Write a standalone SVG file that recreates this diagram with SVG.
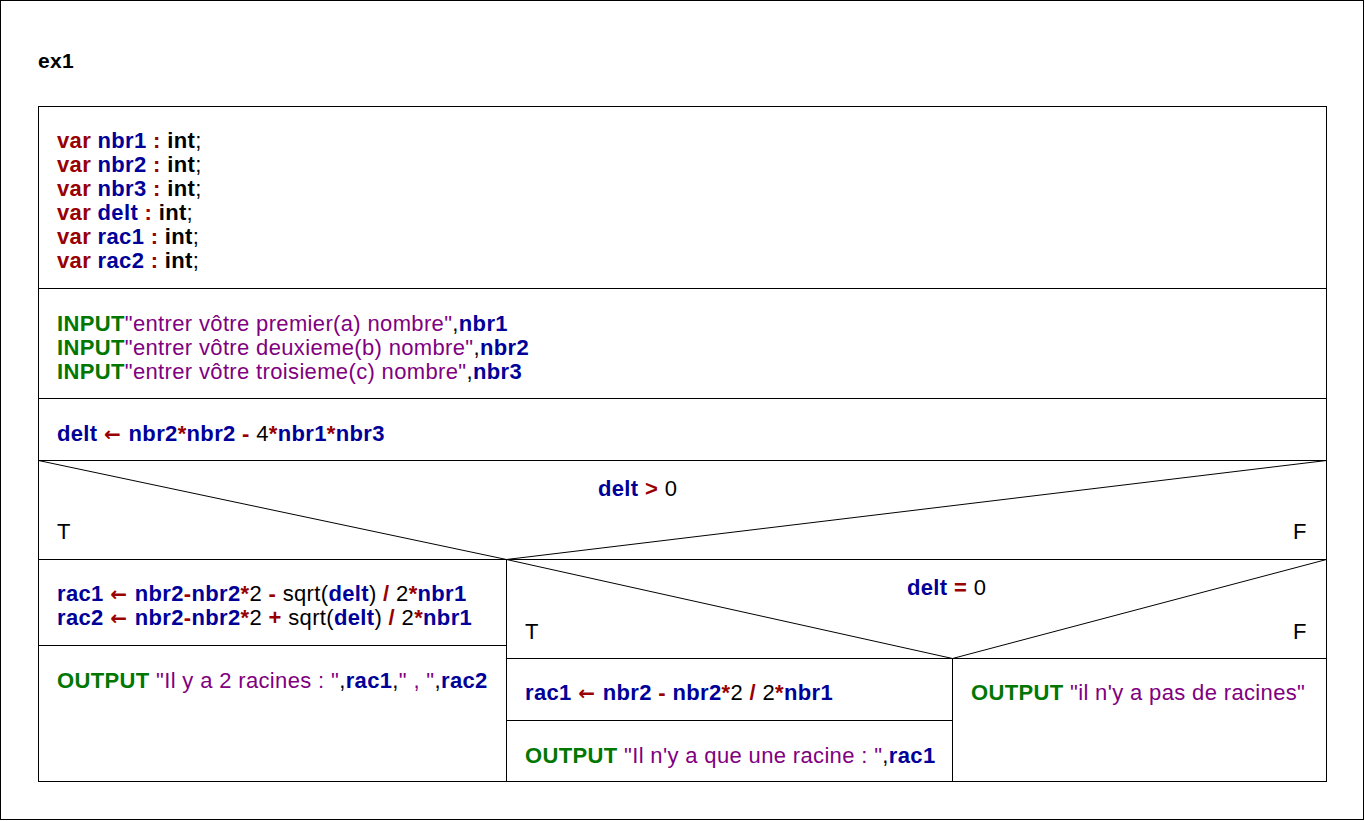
<svg xmlns="http://www.w3.org/2000/svg" width="1365" height="821" viewBox="0 0 1365 821">
<style>
text{font-family:"Liberation Sans",Arial,sans-serif;font-size:22px;letter-spacing:0.35px;fill:#000}
.box{fill:#fff;stroke:#000;stroke-width:1}
.ln{stroke:#000;stroke-width:1;fill:none}
.k{fill:#990000;font-weight:bold}
.a{fill:#990000;font-weight:bold;font-family:"DejaVu Sans",sans-serif;font-size:20px}
.v{fill:#000099;font-weight:bold}
.g{fill:#007700;font-weight:bold}
.s{fill:#800080}
.b{font-weight:bold}
</style>
<rect x="0" y="0" width="1365" height="821" fill="#fff"/>
<rect class="box" x="0.5" y="0.5" width="1363" height="819"/>
<g id="title"><text x="38" y="68" class="b" style="font-size:21px">ex1</text></g>
<rect class="box" x="38.5" y="106.5" width="1288" height="675"/>
<g id="decl">
<rect class="box" x="38.5" y="106.5" width="1288" height="182"/>
<text xml:space="preserve" x="57" y="148"><tspan class="k">var </tspan><tspan class="v">nbr1</tspan><tspan class="k"> : </tspan><tspan class="b">int</tspan>;</text>
<text xml:space="preserve" x="57" y="172"><tspan class="k">var </tspan><tspan class="v">nbr2</tspan><tspan class="k"> : </tspan><tspan class="b">int</tspan>;</text>
<text xml:space="preserve" x="57" y="196"><tspan class="k">var </tspan><tspan class="v">nbr3</tspan><tspan class="k"> : </tspan><tspan class="b">int</tspan>;</text>
<text xml:space="preserve" x="57" y="220"><tspan class="k">var </tspan><tspan class="v">delt</tspan><tspan class="k"> : </tspan><tspan class="b">int</tspan>;</text>
<text xml:space="preserve" x="57" y="244"><tspan class="k">var </tspan><tspan class="v">rac1</tspan><tspan class="k"> : </tspan><tspan class="b">int</tspan>;</text>
<text xml:space="preserve" x="57" y="268"><tspan class="k">var </tspan><tspan class="v">rac2</tspan><tspan class="k"> : </tspan><tspan class="b">int</tspan>;</text>
</g>
<g id="input">
<rect class="box" x="38.5" y="288.5" width="1288" height="110"/>
<text xml:space="preserve" x="57" y="331"><tspan class="g">INPUT</tspan><tspan class="s">"entrer vôtre premier(a) nombre"</tspan>,<tspan class="v">nbr1</tspan></text>
<text xml:space="preserve" x="57" y="355"><tspan class="g">INPUT</tspan><tspan class="s">"entrer vôtre deuxieme(b) nombre"</tspan>,<tspan class="v">nbr2</tspan></text>
<text xml:space="preserve" x="57" y="379"><tspan class="g">INPUT</tspan><tspan class="s">"entrer vôtre troisieme(c) nombre"</tspan>,<tspan class="v">nbr3</tspan></text>
</g>
<g id="assign-delt">
<rect class="box" x="38.5" y="398.5" width="1288" height="62"/>
<text xml:space="preserve" x="57" y="441"><tspan class="v">delt </tspan><tspan class="a">←</tspan><tspan class="k"> </tspan><tspan class="v" dx="1">nbr2</tspan><tspan class="k">*</tspan><tspan class="v">nbr2</tspan><tspan class="k"> - </tspan>4<tspan class="k">*</tspan><tspan class="v">nbr1</tspan><tspan class="k">*</tspan><tspan class="v">nbr3</tspan></text>
</g>
<g id="if-delt-gt-0">
<rect class="box" x="38.5" y="460.5" width="1288" height="99"/>
<polyline class="ln" points="38.5,460.5 506.5,559.5 1326.5,460.5"/>
<text xml:space="preserve" x="598" y="496"><tspan class="v">delt</tspan><tspan class="k"> &gt; </tspan>0</text>
<text x="57" y="539">T</text>
<text x="1293" y="539">F</text>
</g>
<g id="roots-two">
<rect class="box" x="38.5" y="559.5" width="468" height="86"/>
<text xml:space="preserve" x="57" y="601"><tspan class="v">rac1 </tspan><tspan class="a">←</tspan><tspan class="k"> </tspan><tspan class="v" dx="1">nbr2</tspan><tspan class="k">-</tspan><tspan class="v">nbr2</tspan><tspan class="k">*</tspan>2<tspan class="k"> - </tspan>sqrt(<tspan class="v">delt</tspan>)<tspan class="k"> / </tspan>2<tspan class="k">*</tspan><tspan class="v">nbr1</tspan></text>
<text xml:space="preserve" x="57" y="625"><tspan class="v">rac2 </tspan><tspan class="a">←</tspan><tspan class="k"> </tspan><tspan class="v" dx="1">nbr2</tspan><tspan class="k">-</tspan><tspan class="v">nbr2</tspan><tspan class="k">*</tspan>2<tspan class="k"> + </tspan>sqrt(<tspan class="v">delt</tspan>)<tspan class="k"> / </tspan>2<tspan class="k">*</tspan><tspan class="v">nbr1</tspan></text>
</g>
<g id="output-two">
<rect class="box" x="38.5" y="645.5" width="468" height="136"/>
<text xml:space="preserve" x="57" y="688"><tspan class="g">OUTPUT</tspan> <tspan class="s">"Il y a 2 racines : "</tspan>,<tspan class="v">rac1</tspan>,<tspan class="s">" , "</tspan>,<tspan class="v">rac2</tspan></text>
</g>
<g id="if-delt-eq-0">
<rect class="box" x="506.5" y="559.5" width="820" height="99"/>
<polyline class="ln" points="506.5,559.5 952.5,658.5 1326.5,559.5"/>
<text xml:space="preserve" x="907" y="595"><tspan class="v">delt</tspan><tspan class="k"> = </tspan>0</text>
<text x="525" y="639">T</text>
<text x="1293" y="639">F</text>
</g>
<g id="root-one">
<rect class="box" x="506.5" y="658.5" width="446" height="62"/>
<text xml:space="preserve" x="525" y="700"><tspan class="v">rac1 </tspan><tspan class="a">←</tspan><tspan class="k"> </tspan><tspan class="v" dx="1">nbr2</tspan><tspan class="k"> - </tspan><tspan class="v">nbr2</tspan><tspan class="k">*</tspan>2<tspan class="k"> / </tspan>2<tspan class="k">*</tspan><tspan class="v">nbr1</tspan></text>
</g>
<g id="output-one">
<rect class="box" x="506.5" y="720.5" width="446" height="61"/>
<text xml:space="preserve" x="525" y="763"><tspan class="g">OUTPUT</tspan> <tspan class="s">"Il n'y a que une racine : "</tspan>,<tspan class="v">rac1</tspan></text>
</g>
<g id="output-none">
<rect class="box" x="952.5" y="658.5" width="374" height="123"/>
<text xml:space="preserve" x="971" y="700"><tspan class="g">OUTPUT</tspan> <tspan class="s">"il n'y a pas de racines"</tspan></text>
</g>
<g id="connectors"/>
</svg>
